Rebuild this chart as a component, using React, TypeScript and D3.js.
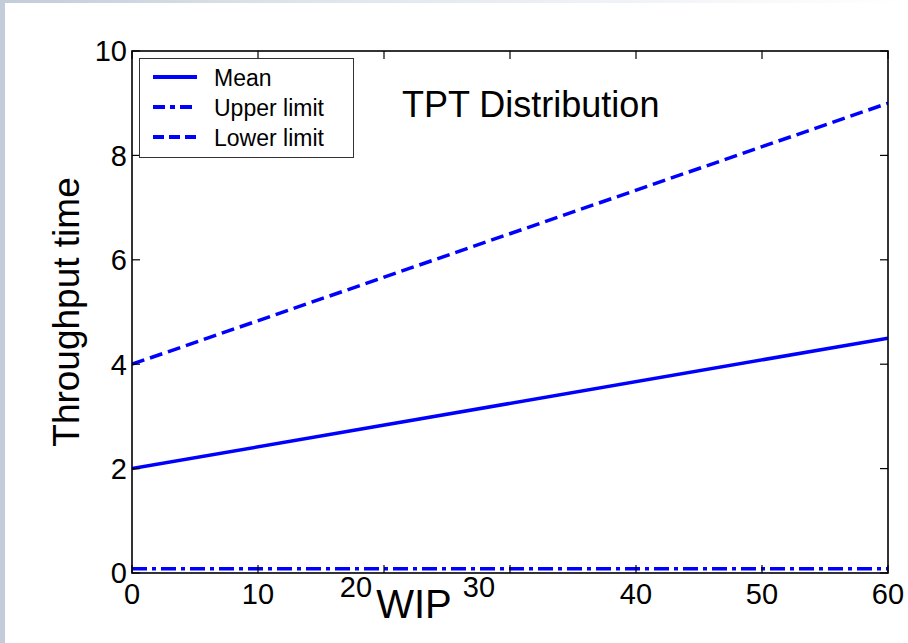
import React from 'react';
import * as d3 from 'd3';

// data
const wip = [0, 60];
const meanTpt = [2, 4.5];
const upperLimit = [0.08, 0.08];
const lowerLimit = [4, 9];
const xTicks = [0, 10, 20, 30, 40, 50, 60];
const yTicks = [0, 2, 4, 6, 8, 10];
const seriesNames = ['Mean', 'Upper limit', 'Lower limit'];
const seriesDash = ['none', '15,5,4,5', '13,6'];
const legendDash = ['none', '12,5,5,5', '11,5'];

const W = 908, H = 643;
const left = 132, right = 888, top = 51, bottom = 573;
const font = "'Liberation Sans', Arial, sans-serif";
const blue = '#0000ff';

// labels 20 and 30 were nudged aside around "WIP" in the original
const labelShift: Record<number, [number, number]> = { 20: [-28, -7], 30: [-31, -7] };

export default function App() {
  const x = d3.scaleLinear().domain([0, 60]).range([left, right]);
  const y = d3.scaleLinear().domain([0, 10]).range([bottom, top]);

  const line = d3.line<[number, number]>()
    .x(d => x(d[0]))
    .y(d => y(d[1]));

  const series = [meanTpt, upperLimit, lowerLimit].map(vals =>
    wip.map((w, i) => [w, vals[i]] as [number, number]));

  const tickLen = 8;

  return (
    <div style={{ position: 'fixed', left: 0, top: 0 }}>
      <svg width={W} height={H} style={{ display: 'block' }} fontFamily={font}>
        <defs>
          <linearGradient id="topfade" x1="0" x2="1" y1="0" y2="0">
            <stop offset="0" stopColor="#c2cdd9" />
            <stop offset="0.35" stopColor="#dfe5ec" />
            <stop offset="1" stopColor="#ffffff" />
          </linearGradient>
          <clipPath id="plotclip">
            <rect x={left} y={top} width={right - left} height={bottom - top} />
          </clipPath>
        </defs>
        {/* slide background */}
        <rect x={0} y={0} width={W} height={H} fill="#ffffff" />
        <rect x={0} y={0} width={W} height={3} fill="url(#topfade)" />
        <rect x={0} y={0} width={5} height={H} fill="#c2cdd9" />

        {/* series */}
        <g clipPath="url(#plotclip)">
          {series.map((s, i) => (
            <path key={i} d={line(s) || ''} fill="none" stroke={blue}
              strokeWidth={3.5} strokeDasharray={seriesDash[i]} />
          ))}
        </g>

        {/* axes box */}
        <rect x={left} y={top} width={right - left} height={bottom - top}
          fill="none" stroke="#000" strokeWidth={1.6} />
        {xTicks.map(t => {
          const [dx, dy] = labelShift[t] || [0, 0];
          return (
            <g key={'x' + t}>
              <line x1={x(t)} x2={x(t)} y1={bottom} y2={bottom - tickLen} stroke="#000" strokeWidth={1.2} />
              <line x1={x(t)} x2={x(t)} y1={top} y2={top + tickLen} stroke="#000" strokeWidth={1.2} />
              <text x={x(t) + dx} y={604 + dy} textAnchor="middle" fontSize={29}>{t}</text>
            </g>
          );
        })}
        {yTicks.map(t => (
          <g key={'y' + t}>
            <line x1={left} x2={left + tickLen} y1={y(t)} y2={y(t)} stroke="#000" strokeWidth={1.2} />
            <line x1={right} x2={right - tickLen} y1={y(t)} y2={y(t)} stroke="#000" strokeWidth={1.2} />
            <text x={127} y={y(t)} dy="0.36em" textAnchor="end" fontSize={29}>{t}</text>
          </g>
        ))}

        {/* axis labels */}
        <text x={414} y={618} textAnchor="middle" fontSize={40}>WIP</text>
        <text transform={`translate(79,312) rotate(-90)`} textAnchor="middle" fontSize={37}>Throughput time</text>

        {/* title */}
        <text x={402} y={117} fontSize={36}>TPT Distribution</text>

        {/* legend */}
        <rect x={139.5} y={58.5} width={214} height={99} fill="#fff" stroke="#333" strokeWidth={1} />
        {seriesNames.map((name, i) => {
          const base = 86 + i * 30;
          return (
            <g key={name}>
              <line x1={153} x2={197} y1={base - 9} y2={base - 9} stroke={blue}
                strokeWidth={4} strokeDasharray={legendDash[i]} />
              <text x={214} y={base} fontSize={23}>{name}</text>
            </g>
          );
        })}
      </svg>
    </div>
  );
}
